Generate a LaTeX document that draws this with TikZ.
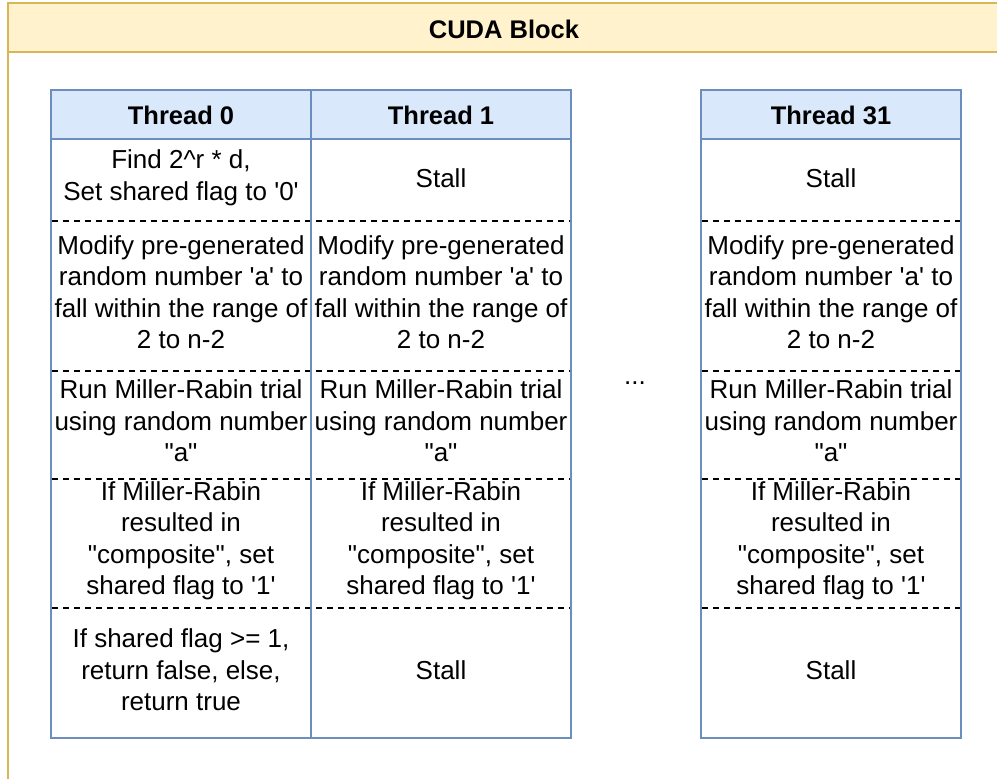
\documentclass[tikz,border=0pt]{standalone}
\usepackage{fontspec}
\newfontfamily\lsans{Liberation Sans}
\definecolor{yfill}{HTML}{FFF2CC}
\definecolor{ystroke}{HTML}{D6B656}
\definecolor{bfill}{HTML}{DAE8FC}
\definecolor{bstroke}{HTML}{6C8EBF}
\begin{document}
\begin{tikzpicture}[x=1pt,y=-1pt,
  cell/.style={font=\lsans\fontsize{26}{31.5}\selectfont, align=center, inner sep=0pt, text=black},
  head/.style={font=\lsans\bfseries\fontsize{25.5}{30}\selectfont, inner sep=0pt, text=black},
  sepline/.style={black, line width=1.3pt, dash pattern=on 6pt off 5pt},
  tbl/.style={draw=bstroke, line width=2pt},
  hdr/.style={fill=bfill, draw=bstroke, line width=2pt}]
\useasboundingbox (0,0) rectangle (997,779);
\begin{scope}
  \clip (0,0) rectangle (997,779);
  \draw[ystroke, line width=2pt, fill=white] (8,3) rectangle (1020,800);
  \draw[ystroke, line width=2pt, fill=yfill] (8,3) rectangle (1020,52);
\end{scope}
\node[head] (cuda) at (504,29) {CUDA Block};

% header fills
\draw[hdr] (51,90) rectangle (311,139);
\draw[hdr] (311,90) rectangle (571,139);
\draw[hdr] (701,90) rectangle (961,139);

% dashed separators
\foreach \yy in {221,371,479,608}{
  \draw[sepline] (52,\yy) -- (570,\yy);
  \draw[sepline] (702,\yy) -- (960,\yy);
}

% table borders
\draw[tbl] (51,90) rectangle (571,738);
\draw[tbl] (311,90) -- (311,738);
\draw[tbl] (701,90) rectangle (961,738);

% headers
\node[head] (h0) at (181,115) {Thread 0};
\node[head] (h1) at (441,115) {Thread 1};
\node[head] (h31) at (831,115) {Thread 31};

% row 1
\node[cell] (a1) at (181,178) {Find 2\textasciicircum r * d,\\Set shared flag to '0'};
\node[cell] (b1) at (441,178) {Stall};
\node[cell] (c1) at (831,178) {Stall};

% row 2
\node[cell] (a2) at (181,292) {Modify pre-generated\\random number 'a' to\\fall within the range of\\2 to n-2};
\node[cell] (b2) at (441,292) {Modify pre-generated\\random number 'a' to\\fall within the range of\\2 to n-2};
\node[cell] (c2) at (831,292) {Modify pre-generated\\random number 'a' to\\fall within the range of\\2 to n-2};

% row 3
\node[cell] (a3) at (181,421) {Run Miller-Rabin trial\\using random number\\"a"};
\node[cell] (b3) at (441,421) {Run Miller-Rabin trial\\using random number\\"a"};
\node[cell] (c3) at (831,421) {Run Miller-Rabin trial\\using random number\\"a"};

% row 4
\node[cell] (a4) at (181,541) {If Miller-Rabin\\resulted in\\"composite", set\\shared flag to '1'};
\node[cell] (b4) at (441,541) {If Miller-Rabin\\resulted in\\"composite", set\\shared flag to '1'};
\node[cell] (c4) at (831,541) {If Miller-Rabin\\resulted in\\"composite", set\\shared flag to '1'};

% row 5
\node[cell] (a5) at (181,670) {If shared flag >= 1,\\return false, else,\\return true};
\node[cell] (b5) at (441,670) {Stall};
\node[cell] (c5) at (831,670) {Stall};

% ellipsis
\node[cell] (dots) at (635,383) {...};
\end{tikzpicture}
\end{document}
